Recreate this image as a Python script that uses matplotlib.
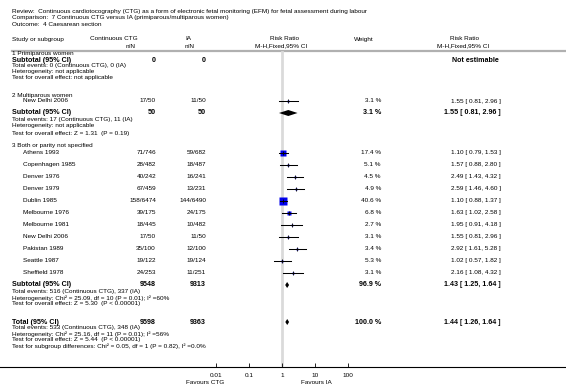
import numpy as np
import matplotlib
matplotlib.use("Agg")
import matplotlib.pyplot as plt
from matplotlib.lines import Line2D

plt.rcParams['font.family'] = ['Liberation Sans', 'DejaVu Sans']

# ---------------- data ----------------
g2_studies = ["New Delhi 2006"]
g2_ctg = ["17/50"]
g2_ia = ["11/50"]
g2_w = [3.1]
g2_rr = [1.55]
g2_lo = [0.81]
g2_hi = [2.96]

g3_studies = ["Athens 1993", "Copenhagen 1985", "Denver 1976", "Denver 1979", "Dublin 1985",
              "Melbourne 1976", "Melbourne 1981", "New Delhi 2006", "Pakistan 1989",
              "Seattle 1987", "Sheffield 1978"]
g3_ctg = ["71/746", "28/482", "40/242", "67/459", "158/6474", "39/175", "18/445", "17/50",
          "35/100", "19/122", "24/253"]
g3_ia = ["59/682", "18/487", "16/241", "13/231", "144/6490", "24/175", "10/482", "11/50",
         "12/100", "19/124", "11/251"]
g3_w = [17.4, 5.1, 4.5, 4.9, 40.6, 6.8, 2.7, 3.1, 3.4, 5.3, 3.1]
g3_rr = [1.10, 1.57, 2.49, 2.59, 1.10, 1.63, 1.95, 1.55, 2.92, 1.02, 2.16]
g3_lo = [0.79, 0.88, 1.43, 1.46, 0.88, 1.02, 0.91, 0.81, 1.61, 0.57, 1.08]
g3_hi = [1.53, 2.80, 4.32, 4.60, 1.37, 2.58, 4.18, 2.96, 5.28, 1.82, 4.32]

sub_labels = ["Subtotal (95% CI)", "Subtotal (95% CI)", "Subtotal (95% CI)", "Total (95% CI)"]
sub_ctg_n = ["0", "50", "9548", "9598"]
sub_ia_n = ["0", "50", "9313", "9363"]
sub_w = [None, 3.1, 96.9, 100.0]
sub_rr = [None, 1.55, 1.43, 1.44]
sub_lo = [None, 0.81, 1.25, 1.26]
sub_hi = [None, 2.96, 1.64, 1.64]

axis_ticks = [0.01, 0.1, 1, 10, 100]
axis_labels = ["0.01", "0.1", "1", "10", "100"]

# ---------------- layout (pixel rows) ----------------
W, H = 566, 384
fig = plt.figure(figsize=(W / 100, H / 100), dpi=100)
bg = fig.add_axes([0, 0, 1, 1])
bg.set_xlim(0, W)
bg.set_ylim(H, 0)
bg.axis('off')

AX_TOP, AX_BOT = 50, 367
X_LO, X_HI = 216, 348
ax = fig.add_axes([X_LO / W, (H - AX_BOT) / H, (X_HI - X_LO) / W, (AX_BOT - AX_TOP) / H])
ax.set_xscale('log')
ax.set_xlim(0.01, 100)
ax.set_ylim(AX_BOT, AX_TOP)
ax.patch.set_alpha(0)
for s in ax.spines.values():
    s.set_visible(False)
ax.set_yticks([])

FS = 4.6       # normal text
FSS = 4.6      # study rows
FB = 5.1       # bold
XL = 12
XS = 23
X_CTG = 156
X_IA = 206
X_W = 381
X_EF = 501


def t(x, y, s, size=FS, ha='left', weight='normal', color='black'):
    bg.text(x, y, s, fontsize=size, ha=ha, va='center', weight=weight, color=color)


# titles
t(XL, 12, "Review:  Continuous cardiotocography (CTG) as a form of electronic fetal monitoring (EFM) for fetal assessment during labour")
t(XL, 18, "Comparison:  7 Continuous CTG versus IA (primiparous/multiparous women)")
t(XL, 24, "Outcome:  4 Caesarean section")

# header
t(XL, 39, "Study or subgroup")
t(90, 39, "Continuous CTG")
t(126, 46, "n/N")
t(185, 39, "IA")
t(185, 46, "n/N")
t(284, 39, "Risk Ratio", ha='center')
t(281, 46, "M-H,Fixed,95% CI", ha='center')
t(364, 39, "Weight", ha='center')
t(465, 39, "Risk Ratio", ha='center')
t(463, 46, "M-H,Fixed,95% CI", ha='center')
bg.add_line(Line2D([XL, W], [50.5, 50.5], color='#b0b0b0', lw=1.6))

# reference line at RR = 1
ax.plot([1, 1], [AX_TOP + 2, AX_BOT], color='#dadada', lw=2, zorder=0)


def study_row(y, name, c, i, w, rr, lo, hi):
    t(XS, y, name, size=FSS)
    t(X_CTG, y, c, size=FSS, ha='right')
    t(X_IA, y, i, size=FSS, ha='right')
    t(X_W, y, f"{w:.1f} %", size=FSS, ha='right')
    t(X_EF, y, f"{rr:.2f} [ {lo:.2f}, {hi:.2f} ]", size=FSS, ha='right')
    side = 1.4 * np.sqrt(w) - 0.5  # pixels
    ax.plot([rr], [y], marker='s', ms=side * 0.72, color='#0000ee', mec='none', ls='none', zorder=2)
    ax.plot([lo, hi], [y, y], color='black', lw=0.75, zorder=3)
    ax.plot([rr], [y], marker='|', ms=3.2 * 0.72, mew=0.6, color='black', zorder=3)


def diamond(y, rr, lo, hi, h=3.0):
    ax.fill([lo, rr, hi, rr], [y, y - h, y, y + h], color='black', lw=0, zorder=3)


def subtotal_row(y, k):
    t(XL, y, sub_labels[k], size=FB, weight='bold')
    t(X_CTG, y, sub_ctg_n[k], size=FB, ha='right', weight='bold')
    t(X_IA, y, sub_ia_n[k], size=FB, ha='right', weight='bold')
    if sub_rr[k] is None:
        t(475, y, "Not estimable", size=FB, ha='center', weight='bold')
    else:
        t(X_W, y, f"{sub_w[k]:.1f} %", size=FB, ha='right', weight='bold')
        t(X_EF, y, f"{sub_rr[k]:.2f} [ {sub_lo[k]:.2f}, {sub_hi[k]:.2f} ]", size=FB, ha='right', weight='bold')
        diamond(y, sub_rr[k], sub_lo[k], sub_hi[k])


# group 1
t(XL, 54, "1 Primiparous women")
subtotal_row(60, 0)
t(XL, 66, "Total events: 0 (Continuous CTG), 0 (IA)")
t(XL, 72, "Heterogeneity: not applicable")
t(XL, 78, "Test for overall effect: not applicable")

# group 2
t(XL, 95, "2 Multiparous women")
study_row(101, g2_studies[0], g2_ctg[0], g2_ia[0], g2_w[0], g2_rr[0], g2_lo[0], g2_hi[0])
subtotal_row(113, 1)
t(XL, 120, "Total events: 17 (Continuous CTG), 11 (IA)")
t(XL, 126, "Heterogeneity: not applicable")
t(XL, 133, "Test for overall effect: Z = 1.31  (P = 0.19)")

# group 3
t(XL, 146, "3 Both or parity not specified")
y0, dy = 152.5, 12.0
for j in range(len(g3_studies)):
    study_row(y0 + j * dy, g3_studies[j], g3_ctg[j], g3_ia[j], g3_w[j], g3_rr[j], g3_lo[j], g3_hi[j])
subtotal_row(285, 2)
t(XL, 292, "Total events: 516 (Continuous CTG), 337 (IA)")
t(XL, 298, "Heterogeneity: Chi² = 25.09, df = 10 (P = 0.01); I² =60%")
t(XL, 304, "Test for overall effect: Z = 5.30  (P < 0.00001)")

# total
subtotal_row(322, 3)
t(XL, 328, "Total events: 533 (Continuous CTG), 348 (IA)")
t(XL, 334, "Heterogeneity: Chi² = 25.16, df = 11 (P = 0.01); I² =56%")
t(XL, 340, "Test for overall effect: Z = 5.44  (P < 0.00001)")
t(XL, 346, "Test for subgroup differences: Chi² = 0.05, df = 1 (P = 0.82), I² =0.0%")

# axis
bg.add_line(Line2D([0, W], [AX_BOT, AX_BOT], color='black', lw=0.8))
ax.set_xticks(axis_ticks)
ax.set_xticklabels(axis_labels)
ax.minorticks_off()
ax.tick_params(axis='x', direction='in', length=3, width=0.6, pad=4, labelsize=FS)
t(205, 382.5, "Favours CTG", ha='center')
t(316, 382.5, "Favours IA", ha='center')

fig.savefig("out.png", dpi=100)
